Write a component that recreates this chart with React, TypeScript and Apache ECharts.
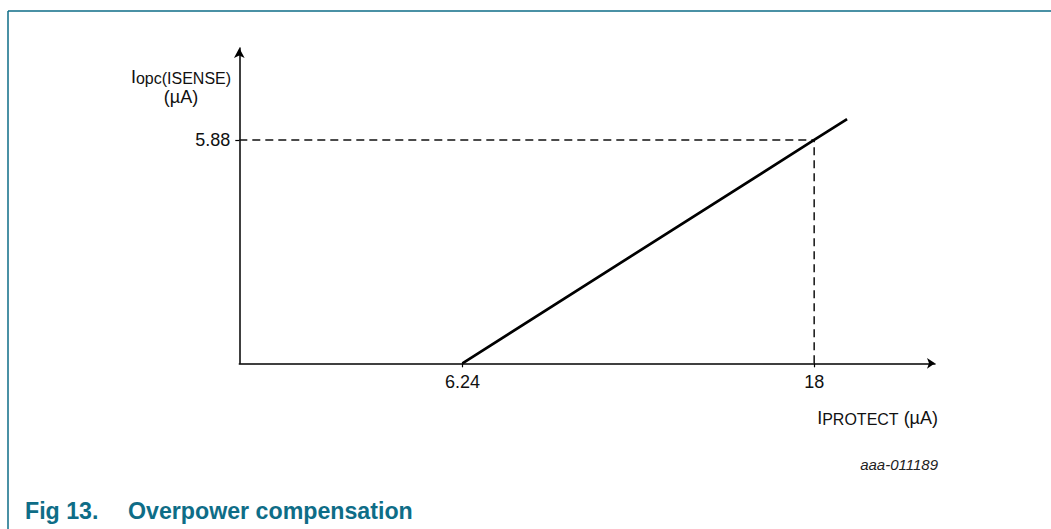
import React, { useEffect, useRef } from "react";
import * as echarts from "echarts";

// ---- data ----
const xTickValues = [6.24, 18];
const yTickValues = [5.88];
const curveX = [6.24, 18, 19.1];
const curveY = [0, 5.88, 6.43];
const guideX = 18;
const guideY = 5.88;
const xRange = [-1.22, 22.04];
const yRange = [0, 8.3];

const FONT = '"Liberation Sans", Arial, Helvetica, sans-serif';
const TEAL = "#0e6d87";

export default function App() {
  const ref = useRef<HTMLDivElement>(null);
  useEffect(() => {
    if (!ref.current) return;
    const chart = echarts.init(ref.current, undefined, { renderer: "svg" });
    const curve = curveX.map((x, i) => [x, curveY[i]]);
    chart.setOption({
      animation: false,
      backgroundColor: "#ffffff",
      textStyle: { fontFamily: FONT },
      grid: { left: 239.3, right: 116, top: 48, bottom: 165.7, containLabel: false },
      xAxis: {
        type: "value",
        min: xRange[0],
        max: xRange[1],
        splitLine: { show: false },
        axisLine: {
          onZero: false,
          lineStyle: { color: "#000", width: 1.5 },
          symbol: ["none", "arrow"],
          symbolSize: [8, 8],
        },
        axisTick: { show: true, customValues: xTickValues, length: 4, lineStyle: { color: "#000", width: 1.2 } },
        axisLabel: {
          customValues: xTickValues,
          formatter: (v: number) => String(v),
          color: "#111",
          fontSize: 18,
          fontFamily: FONT,
          margin: 10,
        },
      },
      yAxis: {
        type: "value",
        min: yRange[0],
        max: yRange[1],
        splitLine: { show: false },
        axisLine: {
          onZero: false,
          lineStyle: { color: "#000", width: 1.5 },
          symbol: ["none", "arrow"],
          symbolSize: [8, 10],
        },
        axisTick: { show: true, customValues: yTickValues, length: 4, lineStyle: { color: "#000", width: 1.2 } },
        axisLabel: {
          customValues: yTickValues,
          formatter: (v: number) => String(v),
          color: "#111",
          fontSize: 18,
          fontFamily: FONT,
          margin: 9,
        },
      },
      series: [
        {
          type: "line",
          data: [[xRange[0], guideY], [guideX, guideY]],
          symbol: "none",
          lineStyle: { color: "#111", width: 1.5, type: [8, 5] },
          z: 1,
        },
        {
          type: "line",
          data: [[guideX, 0], [guideX, guideY]],
          symbol: "none",
          lineStyle: { color: "#111", width: 1.5, type: [8, 5] },
          z: 1,
        },
        {
          type: "line",
          data: curve,
          symbol: "none",
          lineStyle: { color: "#000", width: 2.7 },
          z: 3,
        },
      ],
      graphic: [
        { type: "line", shape: { x1: 8, y1: 11, x2: 1051, y2: 11 }, style: { stroke: TEAL, lineWidth: 1.5 } },
        { type: "line", shape: { x1: 8, y1: 11, x2: 8, y2: 529 }, style: { stroke: TEAL, lineWidth: 1.5 } },
        {
          type: "text",
          x: 181,
          y: 86,
          style: {
            text: "{m|I}{s|opc(ISENSE)}\n{m|(µA)}",
            align: "center",
            verticalAlign: "middle",
            fill: "#111",
            fontFamily: FONT,
            rich: {
              m: { fontSize: 18, lineHeight: 20, fontFamily: FONT, fill: "#111", verticalAlign: "bottom" },
              s: { fontSize: 16, lineHeight: 20, fontFamily: FONT, fill: "#111", verticalAlign: "bottom" },
            },
          },
        },
        {
          type: "text",
          x: 938,
          y: 417,
          style: {
            text: "{m|I}{s|PROTECT}{m| (µA)}",
            align: "right",
            verticalAlign: "middle",
            fill: "#111",
            fontFamily: FONT,
            rich: {
              m: { fontSize: 18, lineHeight: 20, fontFamily: FONT, fill: "#111", verticalAlign: "bottom" },
              s: { fontSize: 16, lineHeight: 20, fontFamily: FONT, fill: "#111", verticalAlign: "bottom" },
            },
          },
        },
        {
          type: "text",
          x: 938,
          y: 464,
          style: {
            text: "aaa-011189",
            align: "right",
            verticalAlign: "middle",
            fill: "#222",
            fontFamily: FONT,
            fontSize: 15,
            fontStyle: "italic",
          },
        },
        {
          type: "text",
          x: 25,
          y: 511,
          style: {
            text: "Fig 13.",
            align: "left",
            verticalAlign: "middle",
            fill: TEAL,
            fontFamily: FONT,
            fontSize: 23.2,
            fontWeight: "bold",
          },
        },
        {
          type: "text",
          x: 128,
          y: 511,
          style: {
            text: "Overpower compensation",
            align: "left",
            verticalAlign: "middle",
            fill: TEAL,
            fontFamily: FONT,
            fontSize: 23.2,
            fontWeight: "bold",
          },
        },
      ],
    });
    return () => chart.dispose();
  }, []);
  return (
    <div
      ref={ref}
      style={{ position: "absolute", left: 0, top: 0, width: 1051, height: 529 }}
    />
  );
}
